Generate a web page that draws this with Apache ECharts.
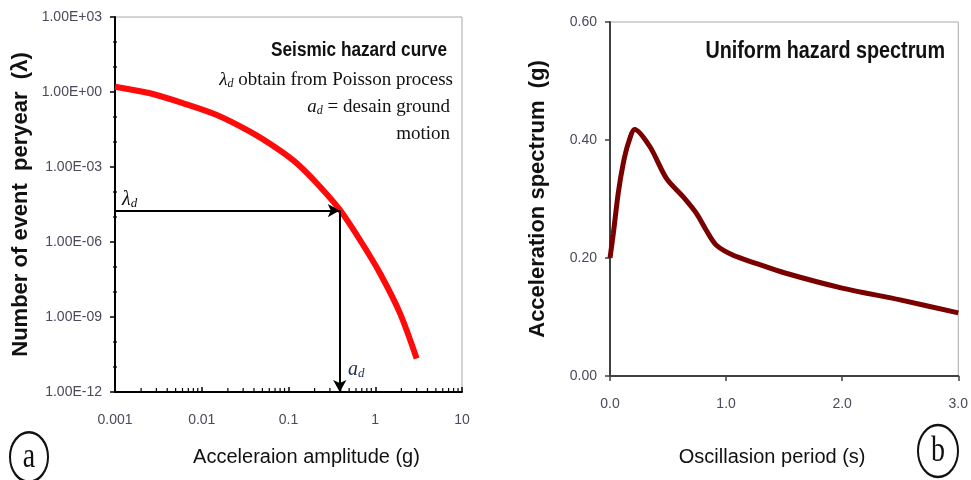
<!DOCTYPE html>
<html>
<head>
<meta charset="utf-8">
<title>hazard</title>
<script src="https://cdn.jsdelivr.net/npm/echarts@6/dist/echarts.min.js"></script>
<style>
  html, body {margin:0; padding:0; background:#fff;}
  #main {width:971px; height:480px;}
</style>
</head>
<body>
<div id="main"></div>
<script>
// (a) seismic hazard curve
var accel = [0.001, 0.00253, 0.00612, 0.0149, 0.036, 0.0731, 0.1245, 0.2307, 0.3926, 0.667, 1.134, 1.93, 3.0];
var rate = [1.63, 0.89, 0.353, 0.12, 0.0258, 0.0056, 0.0014, 1.63e-4, 1.9e-5, 1.2e-6, 5.6e-8, 1.4e-9, 2.2e-11];
var lambdaD = 1.8e-5;
var aD = 0.39;
var xTicksA = ['0.001', '0.01', '0.1', '1', '10'];
var yTicksA = ['1.00E-12', '1.00E-09', '1.00E-06', '1.00E-03', '1.00E+00', '1.00E+03'];

// (b) uniform hazard spectrum
var period = [0, 0.029, 0.071, 0.114, 0.157, 0.214, 0.343, 0.486, 0.629, 0.743, 0.829, 0.914, 1.057, 1.257, 1.5, 2.0, 2.5, 3.0];
var spectrum = [0.2, 0.242, 0.31, 0.36, 0.394, 0.418, 0.389, 0.335, 0.304, 0.276, 0.247, 0.222, 0.205, 0.191, 0.175, 0.149, 0.129, 0.107];
var xTicksB = ['0.0', '1.0', '2.0', '3.0'];
var yTicksB = ['0.00', '0.20', '0.40', '0.60'];

// log minor ticks
var minorMant = [2, 3, 4, 5, 6, 7, 8, 9];
var xDecades = [0.001, 0.01, 0.1, 1];
var yMinorDecades = [1e-11, 1e-10, 1e-8, 1e-7, 1e-5, 1e-4, 1e-2, 1e-1, 1e1, 1e2];

var minorData = [];
for (var i = 0; i < xDecades.length; i++) {
  for (var j = 0; j < minorMant.length; j++) {
    minorData.push([+(xDecades[i] * minorMant[j]).toPrecision(3), 1e-12, 0]);
  }
}
for (var k = 0; k < yMinorDecades.length; k++) {
  minorData.push([0.001, yMinorDecades[k], 1]);
}

var tickFont = {color: '#4a4a5a', fontSize: 14, fontFamily: 'Liberation Sans, Arial, sans-serif'};
var titleV = {color: '#111', fontSize: 22, fontWeight: 'bold', fontFamily: 'Liberation Sans, Arial, sans-serif'};
var titleH = {color: '#111', fontSize: 20, fontFamily: 'Liberation Sans, Arial, sans-serif'};

var myChart = echarts.init(document.getElementById('main'), null, {renderer: 'canvas'});

var option = {
  animation: false,
  backgroundColor: '#fff',
  grid: [
    {left: 115, top: 17, width: 347, height: 375, show: true, borderColor: '#a8a8a8', borderWidth: 1},
    {left: 610, top: 22, width: 350, height: 354, show: true, borderColor: '#a8a8a8', borderWidth: 1}
  ],
  xAxis: [
    {
      gridIndex: 0,
      type: 'log',
      logBase: 10,
      min: 0.001,
      max: 10,
      interval: 1,
      name: 'Acceleraion amplitude (g)',
      nameLocation: 'middle',
      nameGap: 55,
      nameTextStyle: Object.assign({padding: [0, 0, 0, 36]}, titleH),
      axisLine: {lineStyle: {color: '#000', width: 2}},
      axisTick: {inside: true, length: 5, lineStyle: {color: '#000', width: 1.5}},
      axisLabel: Object.assign({margin: 21, formatter: function (v, idx) { return xTicksA[idx]; }}, tickFont),
      splitLine: {show: false}
    },
    {
      gridIndex: 1,
      type: 'value',
      min: 0,
      max: 3,
      interval: 1,
      name: 'Oscillasion period (s)',
      nameLocation: 'middle',
      nameGap: 71,
      nameTextStyle: Object.assign({padding: [0, 24, 0, 0]}, titleH),
      axisLine: {lineStyle: {color: '#404040', width: 2}},
      axisTick: {length: 5, lineStyle: {color: '#404040', width: 1.5}},
      axisLabel: Object.assign({margin: 21, formatter: function (v, idx) { return xTicksB[idx]; }}, tickFont),
      splitLine: {show: false}
    }
  ],
  yAxis: [
    {
      gridIndex: 0,
      type: 'log',
      logBase: 10,
      min: 1e-12,
      max: 1e3,
      interval: 3,
      name: 'Number of event  peryear  (λ)',
      nameLocation: 'middle',
      nameGap: 83,
      nameTextStyle: titleV,
      axisLine: {lineStyle: {color: '#000', width: 2}},
      axisTick: {length: 5, lineStyle: {color: '#000', width: 1.5}},
      axisLabel: Object.assign({margin: 13, formatter: function (v, idx) { return yTicksA[idx]; }}, tickFont),
      splitLine: {show: false}
    },
    {
      gridIndex: 1,
      type: 'value',
      min: 0,
      max: 0.6,
      interval: 0.2,
      name: 'Acceleration spectrum  (g)',
      nameLocation: 'middle',
      nameGap: 61,
      nameTextStyle: titleV,
      axisLine: {lineStyle: {color: '#404040', width: 2}},
      axisTick: {length: 5, lineStyle: {color: '#404040', width: 1.5}},
      axisLabel: Object.assign({margin: 13, formatter: function (v, idx) { return yTicksB[idx]; }}, tickFont),
      splitLine: {show: false}
    }
  ],
  series: [
    {
      name: 'hazard',
      type: 'line',
      xAxisIndex: 0,
      yAxisIndex: 0,
      smooth: 0.3,
      symbol: 'none',
      lineStyle: {color: '#ff0a0a', width: 6},
      data: accel.map(function (a, i) { return [a, rate[i]]; }),
      markLine: {
        silent: true,
        symbol: ['none', 'arrow'],
        symbolSize: [10, 12],
        label: {show: false},
        lineStyle: {color: '#000', width: 2, type: 'solid'},
        data: [
          [{coord: [0.001, lambdaD]}, {coord: [aD, lambdaD]}],
          [{coord: [aD, lambdaD]}, {coord: [aD, 1e-12]}]
        ]
      },
      z: 3
    },
    {
      name: 'minor',
      type: 'custom',
      xAxisIndex: 0,
      yAxisIndex: 0,
      silent: true,
      clip: false,
      data: minorData,
      renderItem: function (params, api) {
        var p = api.coord([api.value(0), api.value(1)]);
        var vert = api.value(2) === 0;
        return {
          type: 'line',
          shape: vert ? {x1: p[0], y1: p[1], x2: p[0], y2: p[1] - 4} : {x1: p[0] - 2, y1: p[1], x2: p[0] + 2, y2: p[1]},
          style: {stroke: '#000', lineWidth: 1.2}
        };
      },
      z: 1
    },
    {
      name: 'uhs',
      type: 'line',
      xAxisIndex: 1,
      yAxisIndex: 1,
      smooth: 0.3,
      symbol: 'none',
      lineStyle: {color: '#7a0000', width: 5},
      data: period.map(function (t, i) { return [t, spectrum[i]]; })
    }
  ],
  graphic: [
    // condensed look: squeeze the bold sans titles horizontally
    {type: 'text', x: 447, y: 50, scaleX: 0.86, style: {text: 'Seismic hazard curve', align: 'right', verticalAlign: 'middle', fill: '#111', font: 'bold 20px "Liberation Sans", Arial, sans-serif'}},
    {type: 'text', x: 453, y: 80, style: {
      text: '{i|λ}{s|d} obtain from Poisson process', align: 'right', verticalAlign: 'middle', fill: '#111',
      font: '19px "Liberation Serif", serif',
      rich: {i: {font: 'italic 19px "Liberation Serif", serif', fill: '#111'}, s: {font: 'italic 12px "Liberation Serif", serif', fill: '#111', verticalAlign: 'bottom', padding: [6, 0, 0, 0]}}
    }},
    {type: 'text', x: 450, y: 107, style: {
      text: '{i|a}{s|d} = desain ground', align: 'right', verticalAlign: 'middle', fill: '#111',
      font: '19px "Liberation Serif", serif',
      rich: {i: {font: 'italic 19px "Liberation Serif", serif', fill: '#111'}, s: {font: 'italic 12px "Liberation Serif", serif', fill: '#111', verticalAlign: 'bottom', padding: [6, 0, 0, 0]}}
    }},
    {type: 'text', x: 450, y: 134, style: {text: 'motion', align: 'right', verticalAlign: 'middle', fill: '#111', font: '19px "Liberation Serif", serif'}},
    {type: 'text', x: 122, y: 200, style: {
      text: '{i|λ}{s|d}', align: 'left', verticalAlign: 'middle',
      rich: {i: {font: 'italic 20px "Liberation Serif", serif', fill: '#111'}, s: {font: 'italic 13px "Liberation Serif", serif', fill: '#111', verticalAlign: 'bottom', padding: [6, 0, 0, 0]}}
    }},
    {type: 'text', x: 348, y: 370, style: {
      text: '{i|a}{s|d}', align: 'left', verticalAlign: 'middle',
      rich: {i: {font: 'italic 20px "Liberation Serif", serif', fill: '#1e2b55'}, s: {font: 'italic 13px "Liberation Serif", serif', fill: '#1e2b55', verticalAlign: 'bottom', padding: [6, 0, 0, 0]}}
    }},
    {type: 'text', x: 945, y: 52, scaleX: 0.86, style: {text: 'Uniform hazard spectrum', align: 'right', verticalAlign: 'middle', fill: '#111', font: 'bold 23px "Liberation Sans", Arial, sans-serif'}},
    // circled panel letters
    {type: 'circle', x: 29, y: 457, scaleY: 1.3, shape: {cx: 0, cy: 0, r: 19}, style: {fill: 'none', stroke: '#111', lineWidth: 2}},
    {type: 'text', x: 29, y: 457, scaleY: 1.3, style: {text: 'a', align: 'center', verticalAlign: 'middle', fill: '#111', font: '28px "Liberation Serif", serif'}},
    {type: 'circle', x: 938, y: 451, scaleY: 1.3, shape: {cx: 0, cy: 0, r: 20}, style: {fill: 'none', stroke: '#111', lineWidth: 2}},
    {type: 'text', x: 938, y: 451, scaleY: 1.3, style: {text: 'b', align: 'center', verticalAlign: 'middle', fill: '#111', font: '28px "Liberation Serif", serif'}}
  ]
};

myChart.setOption(option);
window.onresize = myChart.resize;
</script>
</body>
</html>
